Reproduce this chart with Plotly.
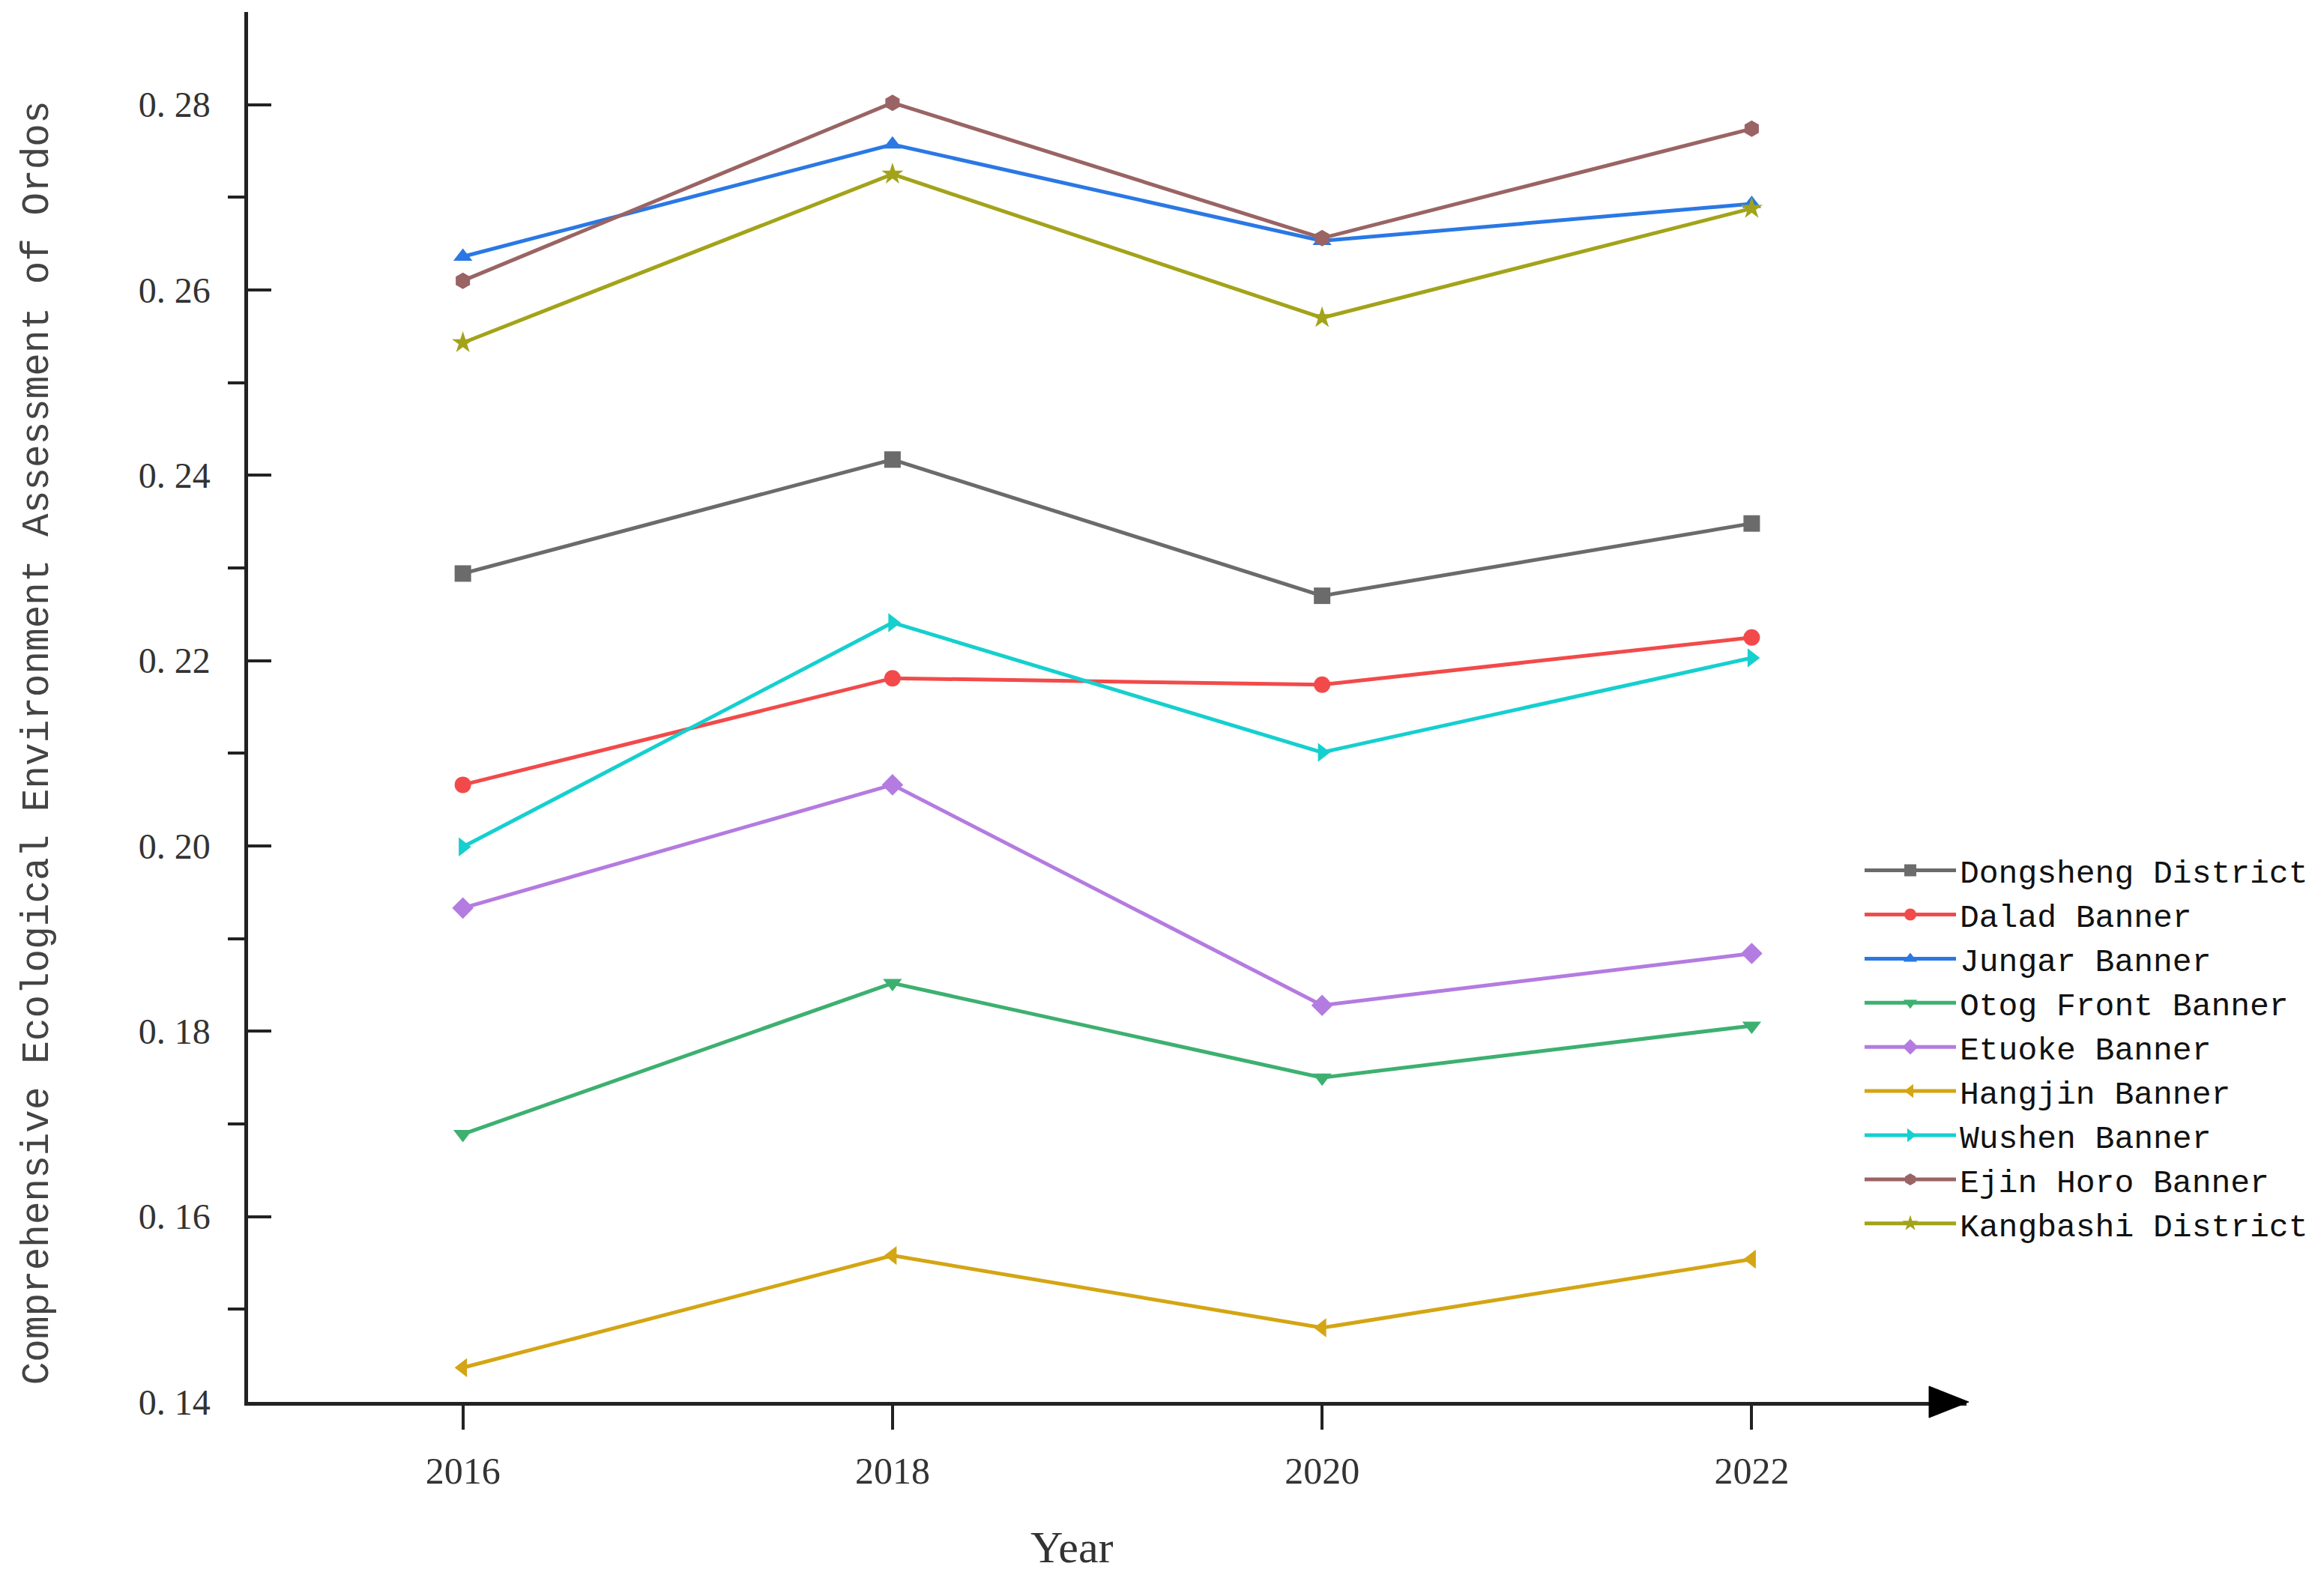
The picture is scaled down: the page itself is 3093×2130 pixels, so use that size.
import plotly.graph_objects as go

years = [2016, 2018, 2020, 2022]

series_names = [
    "Dongsheng District", "Dalad Banner", "Jungar Banner", "Otog Front Banner",
    "Etuoke Banner", "Hangjin Banner", "Wushen Banner", "Ejin Horo Banner",
    "Kangbashi District",
]

dongsheng = [0.2294, 0.2417, 0.2270, 0.2348]
dalad = [0.2066, 0.2181, 0.2174, 0.2225]
jungar = [0.2636, 0.2757, 0.2653, 0.2693]
otog_front = [0.1689, 0.1852, 0.1750, 0.1806]
etuoke = [0.1933, 0.2066, 0.1828, 0.1884]
hangjin = [0.1437, 0.1558, 0.1480, 0.1554]
wushen = [0.1999, 0.2241, 0.2101, 0.2203]
ejin_horo = [0.2610, 0.2802, 0.2656, 0.2774]
kangbashi = [0.2543, 0.2725, 0.2570, 0.2688]

series_values = [dongsheng, dalad, jungar, otog_front, etuoke, hangjin,
                 wushen, ejin_horo, kangbashi]

colors = ["#6B6B6B", "#F24A4A", "#2A78E4", "#3DB070", "#B47BE0",
          "#D4A514", "#16CFCF", "#9A6464", "#A3A31A"]
symbols = ["square", "circle", "triangle-up", "triangle-down", "diamond",
           "triangle-left", "triangle-right", "hexagon", "star"]

y_tickvals = [0.14, 0.16, 0.18, 0.20, 0.22, 0.24, 0.26, 0.28]
y_ticktext = ["0. 14", "0. 16", "0. 18", "0. 20", "0. 22", "0. 24", "0. 26", "0. 28"]
y_minorvals = [0.15, 0.17, 0.19, 0.21, 0.23, 0.25, 0.27, 0.29]
x_tickvals = [2016, 2018, 2020, 2022]
x_ticktext = ["2016", "2018", "2020", "2022"]

fig = go.Figure()
for name, vals, c, s in zip(series_names, series_values, colors, symbols):
    fig.add_trace(go.Scatter(
        x=years, y=vals, name=name, mode="lines+markers",
        line=dict(color=c, width=5),
        marker=dict(symbol=s, size=22, color=c),
    ))

W, H = 3085, 2122
fig.update_layout(
    width=W, height=H, autosize=False,
    margin=dict(l=323, r=465, t=8, b=259),
    paper_bgcolor="white", plot_bgcolor="white",
    showlegend=True,
    legend=dict(
        x=0.9385, y=0.401, xanchor="left", yanchor="top",
        font=dict(family="Liberation Mono", size=43, color="#111"),
        bgcolor="rgba(0,0,0,0)", itemwidth=122, tracegroupgap=0,
    ),
    xaxis=dict(
        range=[2015, 2023], showgrid=False, zeroline=False,
        showline=True, linecolor="#222", linewidth=4.5,
        tickmode="array", tickvals=x_tickvals, ticktext=x_ticktext,
        ticks="outside", ticklen=32, tickwidth=4, tickcolor="#222",
        tickfont=dict(family="Liberation Serif", size=50, color="#333"),
        ticklabelstandoff=12,
    ),
    yaxis=dict(
        range=[0.14, 0.29], showgrid=False, zeroline=False,
        showline=True, linecolor="#222", linewidth=4.5,
        tickmode="array", tickvals=y_tickvals, ticktext=y_ticktext,
        ticks="inside", ticklen=31, tickwidth=4, tickcolor="#222",
        tickfont=dict(family="Liberation Serif", size=48, color="#333"),
        ticklabelstandoff=36,
        minor=dict(ticks="outside", ticklen=22, tickwidth=4, tickcolor="#222",
                   tickmode="array", tickvals=y_minorvals, showgrid=False),
    ),
    annotations=[
        dict(text="Comprehensive Ecological Environment Assessment of Ordos",
             xref="paper", yref="paper", x=-0.1223, y=0.474,
             xanchor="center", yanchor="middle", textangle=-90, showarrow=False,
             font=dict(family="Liberation Mono", size=51, color="#444")),
        dict(text="Year", xref="paper", yref="paper", x=0.4797, y=-0.1046,
             xanchor="center", yanchor="middle", showarrow=False,
             font=dict(family="Liberation Serif", size=60, color="#333")),
    ],
    shapes=[
        dict(type="path", xref="paper", yref="paper",
             xsizemode="pixel", ysizemode="pixel", xanchor=1.0, yanchor=0.0,
             path="M -50,-21 L 3,0 L -50,21 Z",
             fillcolor="black", line=dict(color="black", width=1)),
    ],
)

fig.write_html("out.html")
